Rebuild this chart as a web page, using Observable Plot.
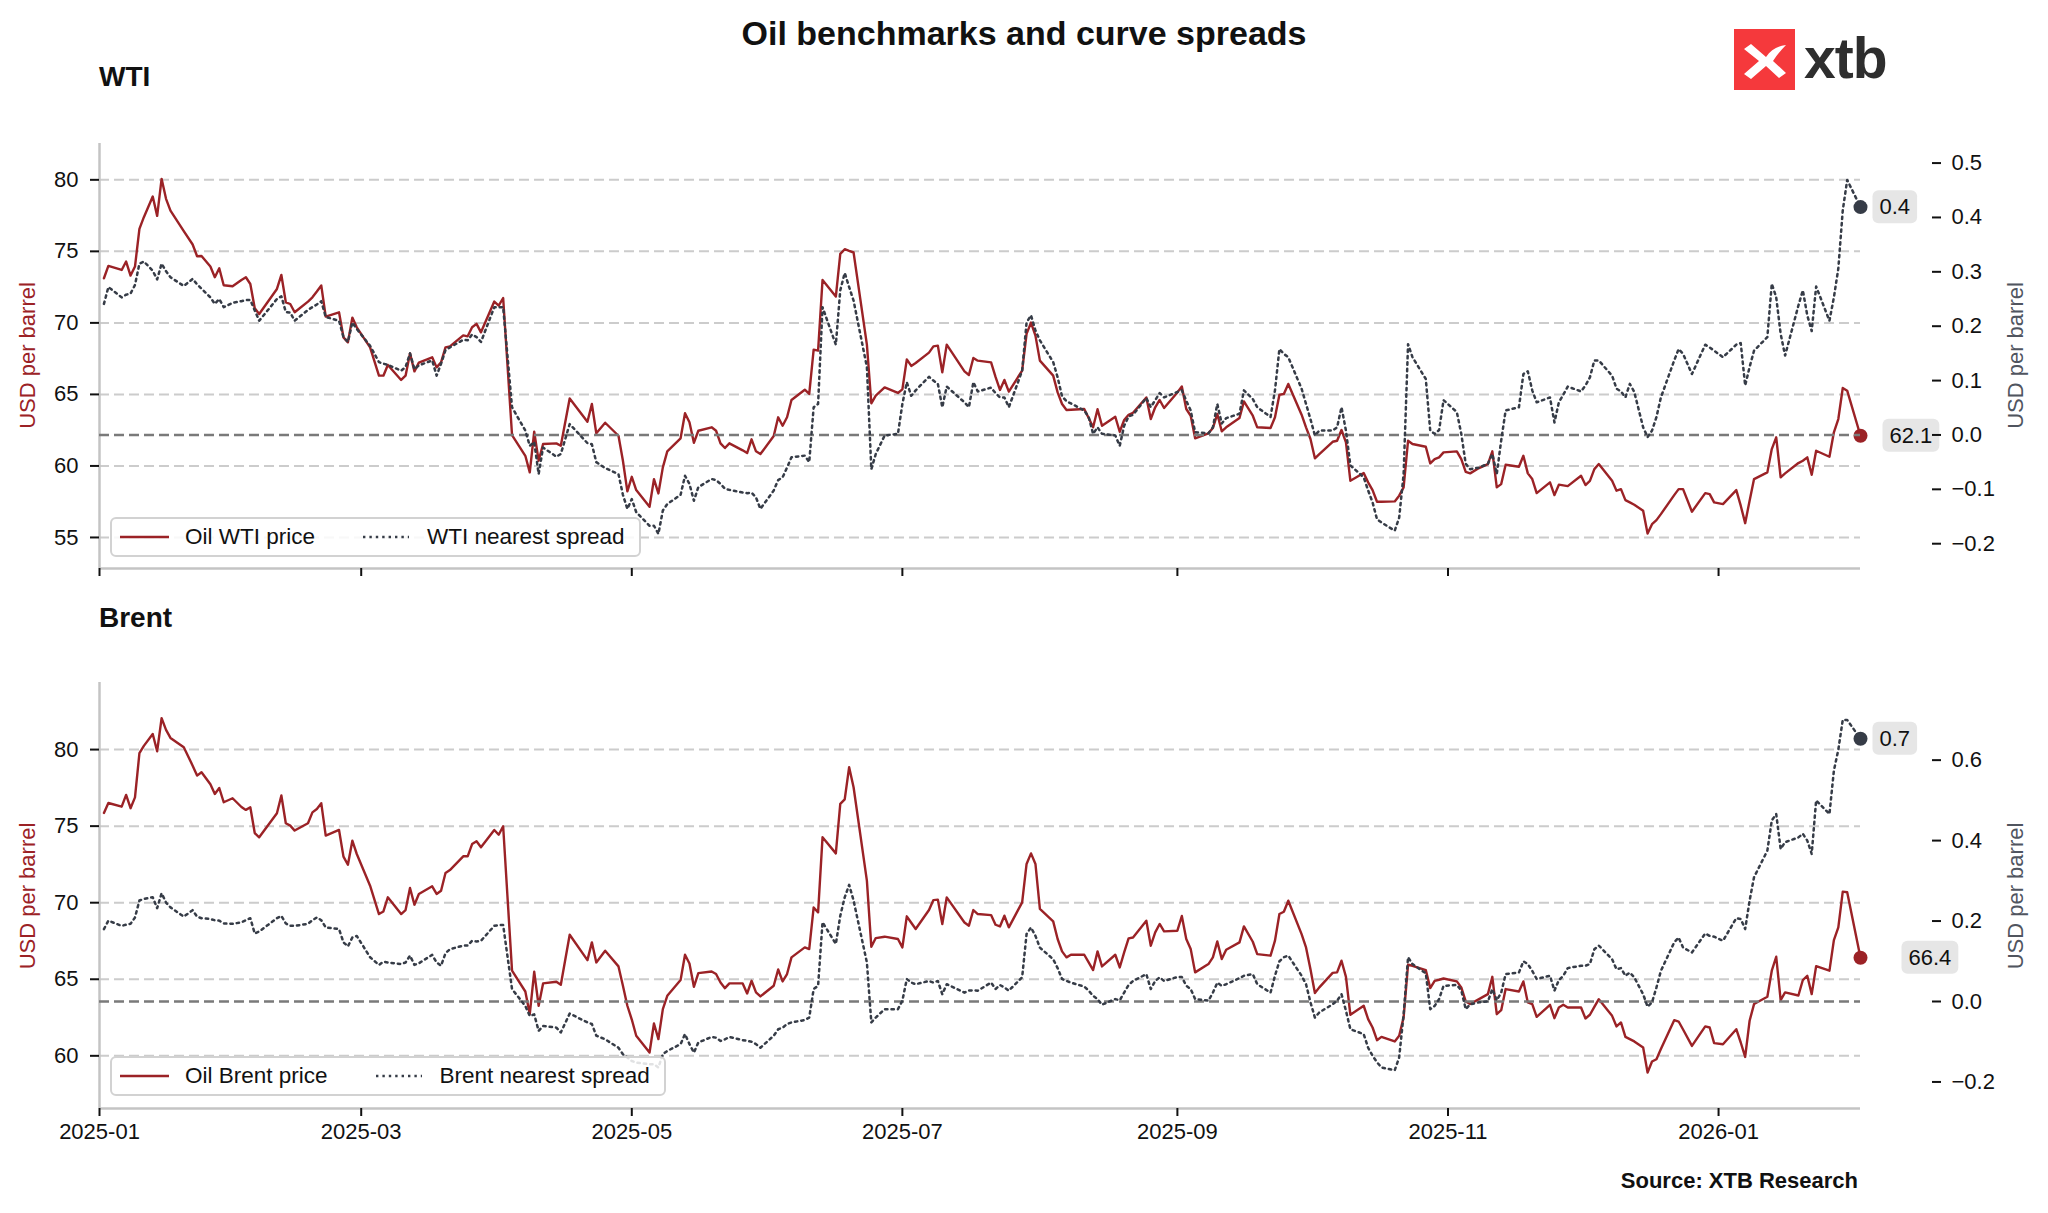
<!DOCTYPE html>
<html>
<head>
<meta charset="utf-8">
<script src="https://cdn.jsdelivr.net/npm/d3@7"></script>
<script src="https://cdn.jsdelivr.net/npm/@observablehq/plot@0.6"></script>
<style>
  html, body { margin: 0; padding: 0; background: #fff; overflow: hidden; }
  #fig { position: relative; width: 2048px; height: 1213px; background: #fff; font-family: "Liberation Sans", Arial, sans-serif; }
  .legend { position: absolute; display: flex; align-items: center; box-sizing: border-box; height: 40px;
    border: 2px solid #d2d2d2; border-radius: 6px; background: rgba(255,255,255,0.85);
    padding: 0 14px 0 6px; font-size: 22.5px; color: #111; white-space: nowrap; }
  .legend svg { display: block; }
</style>
</head>
<body>
<div id="fig"></div>
<script>
// ---------------- data ----------------
const dates = [
"2025-01-02","2025-01-03","2025-01-06","2025-01-07","2025-01-08","2025-01-09","2025-01-10","2025-01-11","2025-01-13","2025-01-14",
"2025-01-15","2025-01-16","2025-01-17","2025-01-20","2025-01-22","2025-01-23","2025-01-24","2025-01-26","2025-01-27","2025-01-28",
"2025-01-29","2025-01-31","2025-02-02","2025-02-03","2025-02-04","2025-02-05","2025-02-06","2025-02-10","2025-02-11","2025-02-12",
"2025-02-13","2025-02-14","2025-02-17","2025-02-18","2025-02-19","2025-02-20","2025-02-21","2025-02-24","2025-02-25","2025-02-26",
"2025-02-27","2025-02-28","2025-03-03","2025-03-05","2025-03-06","2025-03-07","2025-03-10","2025-03-11","2025-03-12","2025-03-13",
"2025-03-14","2025-03-17","2025-03-18","2025-03-19","2025-03-20","2025-03-21","2025-03-24","2025-03-25","2025-03-26","2025-03-27",
"2025-03-28","2025-03-31","2025-04-01","2025-04-02","2025-04-04","2025-04-07","2025-04-08","2025-04-09","2025-04-10",
"2025-04-11","2025-04-14","2025-04-15","2025-04-17","2025-04-21","2025-04-22","2025-04-23","2025-04-25","2025-04-28","2025-04-29",
"2025-04-30","2025-05-01","2025-05-02","2025-05-05","2025-05-06","2025-05-07","2025-05-08","2025-05-09","2025-05-12","2025-05-13",
"2025-05-14","2025-05-15","2025-05-16","2025-05-19","2025-05-20","2025-05-21","2025-05-22","2025-05-23","2025-05-26","2025-05-27",
"2025-05-28","2025-05-29","2025-05-30","2025-06-02","2025-06-03","2025-06-04","2025-06-05","2025-06-06","2025-06-09","2025-06-10",
"2025-06-11","2025-06-12","2025-06-13","2025-06-16","2025-06-17","2025-06-18","2025-06-19","2025-06-20","2025-06-23","2025-06-24",
"2025-06-25","2025-06-27","2025-06-30","2025-07-01","2025-07-02","2025-07-03","2025-07-04","2025-07-07","2025-07-08","2025-07-09",
"2025-07-10","2025-07-11","2025-07-15","2025-07-16","2025-07-17",
"2025-07-18","2025-07-21","2025-07-22","2025-07-23","2025-07-24","2025-07-25","2025-07-28","2025-07-29","2025-07-30","2025-07-31",
"2025-08-01","2025-08-04","2025-08-05","2025-08-06","2025-08-07","2025-08-08","2025-08-11","2025-08-12","2025-08-13","2025-08-14",
"2025-08-15","2025-08-18","2025-08-19","2025-08-20","2025-08-21","2025-08-22","2025-08-25","2025-08-26","2025-08-27","2025-08-28",
"2025-08-29","2025-09-01","2025-09-02","2025-09-03","2025-09-04","2025-09-05","2025-09-08","2025-09-09","2025-09-10","2025-09-11",
"2025-09-12","2025-09-15","2025-09-16","2025-09-18","2025-09-19","2025-09-22","2025-09-23","2025-09-24","2025-09-25","2025-09-26",
"2025-09-29","2025-09-30","2025-10-01","2025-10-02","2025-10-03","2025-10-06","2025-10-07","2025-10-08","2025-10-09","2025-10-10",
"2025-10-13","2025-10-14","2025-10-15","2025-10-16","2025-10-17","2025-10-20","2025-10-21","2025-10-22","2025-10-23",
"2025-10-24","2025-10-27","2025-10-28","2025-10-29","2025-10-30","2025-10-31","2025-11-03","2025-11-04","2025-11-05","2025-11-06",
"2025-11-08","2025-11-10","2025-11-11","2025-11-12","2025-11-13","2025-11-14","2025-11-17","2025-11-18","2025-11-19","2025-11-20",
"2025-11-21","2025-11-24","2025-11-25","2025-11-26","2025-11-27","2025-11-28","2025-12-01","2025-12-02","2025-12-03","2025-12-04",
"2025-12-05","2025-12-08","2025-12-09","2025-12-10","2025-12-11","2025-12-12","2025-12-13","2025-12-15","2025-12-16","2025-12-17",
"2025-12-18","2025-12-19","2025-12-22","2025-12-23","2025-12-24","2025-12-26","2025-12-29","2025-12-30","2025-12-31","2026-01-02",
"2026-01-05","2026-01-06","2026-01-07","2026-01-08","2026-01-09","2026-01-12","2026-01-13","2026-01-14","2026-01-15","2026-01-16",
"2026-01-19","2026-01-20","2026-01-21","2026-01-22","2026-01-23","2026-01-26","2026-01-27","2026-01-28","2026-01-29","2026-01-30","2026-02-02"
];

const wtiPrice = [
73.12,73.98,73.70,74.29,73.31,73.94,76.57,77.39,78.83,77.48,
80.07,78.67,77.85,76.41,75.48,74.66,74.68,73.94,73.19,73.82,
72.63,72.56,73.00,73.19,72.72,71.02,70.62,72.37,73.35,71.44,
71.32,70.74,71.49,71.79,72.19,72.61,70.44,70.74,68.99,68.64,
70.37,69.69,68.29,66.31,66.31,67.06,66.01,66.31,67.87,66.61,
67.22,67.59,66.89,67.24,68.29,68.36,69.13,69.06,69.69,69.93,
69.34,71.49,71.21,71.74,62.16,60.71,59.55,62.39,60.36,
61.53,61.58,61.41,64.72,63.09,64.33,62.28,63.02,62.11,60.36,
58.22,59.24,58.31,57.15,59.08,58.08,59.90,61.02,61.93,63.68,
63.05,61.62,62.46,62.70,62.46,61.58,61.25,61.58,61.09,60.90,
61.86,61.02,60.83,62.09,63.40,62.81,63.40,64.61,65.33,65.03,
68.13,68.06,73.00,71.84,74.82,75.15,75.03,74.92,68.48,64.38,
64.91,65.49,65.10,65.35,67.45,66.99,67.20,67.92,68.36,68.41,
66.54,68.48,66.61,66.36,67.55,
67.36,67.24,66.22,65.31,66.01,65.19,66.66,69.23,70.02,69.11,
67.36,66.31,65.14,64.33,63.91,63.93,63.98,63.35,62.70,63.96,
62.81,63.44,62.39,63.21,63.58,63.72,64.79,63.28,64.10,64.61,
64.05,65.14,65.56,63.98,63.51,61.93,62.28,62.65,63.63,62.42,
62.70,63.35,64.51,63.51,62.70,62.65,63.40,64.98,65.03,65.73,
63.58,62.70,61.88,60.53,60.83,61.69,61.76,62.51,61.65,58.96,
59.50,58.85,58.31,57.50,57.50,57.52,57.92,58.50,61.76,
61.53,61.34,60.18,60.48,60.60,60.95,61.02,60.48,59.59,59.48,
59.85,60.13,61.02,58.50,58.73,60.08,59.94,60.71,59.48,59.08,
58.10,58.85,57.96,58.69,58.64,58.59,59.31,58.66,58.96,59.78,
60.13,58.96,58.27,58.38,57.61,57.45,57.29,56.87,55.28,55.93,
56.21,56.63,57.96,58.38,58.38,56.80,58.10,58.03,57.45,57.33,
58.31,57.22,56.00,57.57,59.08,59.55,61.18,62.00,59.20,59.48,
60.20,60.36,60.60,59.38,61.06,60.64,62.35,63.28,65.45,65.26,62.11
];

const wtiSpread = [
0.241,0.272,0.253,0.258,0.260,0.276,0.315,0.319,0.302,0.286,
0.315,0.301,0.290,0.274,0.287,0.277,0.269,0.253,0.241,0.250,
0.235,0.243,0.246,0.248,0.248,0.229,0.210,0.250,0.255,0.226,
0.225,0.210,0.230,0.235,0.240,0.246,0.217,0.210,0.180,0.171,
0.207,0.195,0.164,0.134,0.131,0.129,0.118,0.125,0.150,0.121,
0.128,0.137,0.109,0.131,0.156,0.161,0.175,0.174,0.185,0.180,
0.171,0.235,0.235,0.235,0.051,0.008,-0.020,-0.013,-0.072,
-0.023,-0.040,-0.035,0.020,-0.015,-0.017,-0.050,-0.061,-0.072,-0.110,
-0.136,-0.118,-0.142,-0.167,-0.167,-0.182,-0.139,-0.127,-0.110,-0.075,
-0.090,-0.121,-0.096,-0.081,-0.083,-0.090,-0.099,-0.101,-0.106,-0.107,
-0.106,-0.115,-0.136,-0.102,-0.083,-0.078,-0.060,-0.041,-0.038,-0.050,
0.051,0.057,0.235,0.166,0.266,0.298,0.272,0.247,0.125,-0.063,
-0.035,-0.001,0.002,0.057,0.097,0.072,0.082,0.107,0.100,0.094,
0.051,0.089,0.060,0.051,0.097,
0.080,0.087,0.077,0.069,0.069,0.051,0.118,0.207,0.220,0.192,
0.174,0.134,0.106,0.071,0.062,0.058,0.045,0.033,0.002,0.014,
0.002,-0.001,-0.020,0.017,0.034,0.037,0.068,0.051,0.064,0.077,
0.069,0.079,0.082,0.063,0.045,0.005,0.003,0.014,0.057,0.021,
0.031,0.039,0.082,0.066,0.051,0.033,0.082,0.158,0.149,0.143,
0.085,0.057,0.029,-0.001,0.008,0.008,0.014,0.051,0.008,-0.056,
-0.078,-0.102,-0.124,-0.155,-0.161,-0.176,-0.152,-0.072,0.167,
0.143,0.103,0.008,0.002,0.009,0.064,0.042,0.002,-0.053,-0.063,
-0.060,-0.053,-0.035,-0.072,-0.010,0.045,0.051,0.112,0.117,0.082,
0.060,0.069,0.023,0.060,0.074,0.089,0.080,0.091,0.106,0.137,
0.137,0.109,0.085,0.080,0.069,0.094,0.079,0.014,-0.004,0.008,
0.033,0.069,0.137,0.158,0.149,0.112,0.166,0.161,0.155,0.143,
0.166,0.169,0.091,0.125,0.155,0.180,0.278,0.253,0.186,0.146,
0.238,0.266,0.220,0.191,0.273,0.210,0.253,0.306,0.413,0.469,0.419
];

const brentPrice = [
75.86,76.51,76.27,77.04,76.17,76.88,79.76,80.24,81.02,79.89,
82.05,81.29,80.76,80.15,78.95,78.30,78.52,77.73,77.10,77.49,
76.56,76.82,76.25,76.06,76.23,74.55,74.27,75.84,77.00,75.19,
75.03,74.71,75.19,75.90,76.12,76.49,74.38,74.75,73.01,72.48,
74.05,73.18,71.11,69.26,69.43,70.35,69.26,69.52,70.96,69.87,
70.57,71.07,70.57,70.78,71.94,72.13,73.03,73.03,73.83,74.01,
73.62,74.75,74.44,74.99,65.56,64.20,62.72,65.49,63.27,
64.73,64.84,64.64,67.91,66.25,67.41,66.10,66.86,65.84,64.58,
63.27,62.37,61.31,60.22,62.11,61.09,63.05,63.92,64.95,66.60,
66.03,64.51,65.40,65.51,65.34,64.79,64.42,64.73,64.73,64.07,
64.90,64.14,63.88,64.58,65.64,64.86,65.34,66.43,67.08,66.97,
69.69,69.37,74.27,73.22,76.45,76.75,78.85,77.54,71.44,67.12,
67.69,67.78,67.63,67.08,69.11,68.69,68.28,69.52,70.17,70.20,
68.61,70.35,68.71,68.50,69.52,
69.26,69.19,68.56,68.45,69.15,68.39,70.02,72.53,73.22,72.53,
69.59,68.78,67.63,66.82,66.43,66.60,66.60,66.10,65.60,66.82,
65.84,66.60,65.77,66.75,67.67,67.73,68.82,67.19,68.06,68.61,
68.13,68.17,69.13,67.63,66.97,65.45,65.99,66.43,67.47,66.32,
66.93,67.41,68.45,67.45,66.64,66.54,67.52,69.26,69.41,70.13,
67.95,67.08,65.66,64.10,64.47,65.42,65.45,66.21,65.16,62.68,
63.27,62.40,61.85,61.02,61.24,60.94,61.31,62.51,65.95,
65.88,65.60,64.42,64.90,64.97,65.05,64.86,64.47,63.55,63.38,
63.70,64.03,65.16,62.72,62.98,64.36,64.20,64.86,63.49,63.38,
62.55,63.33,62.46,63.16,63.33,63.16,63.16,62.44,62.68,63.20,
63.70,62.61,61.92,62.18,61.24,61.09,60.94,60.54,58.91,59.63,
59.78,60.44,62.33,62.24,61.72,60.65,61.92,61.85,60.83,60.76,
61.74,60.87,59.93,62.29,63.38,63.86,65.56,66.47,63.64,64.14,
63.94,64.95,65.23,64.03,65.86,65.56,67.56,68.39,70.72,70.68,66.40
];

const brentSpread = [
0.180,0.201,0.188,0.191,0.193,0.209,0.251,0.255,0.259,0.232,
0.269,0.246,0.234,0.211,0.227,0.211,0.207,0.205,0.202,0.201,
0.194,0.193,0.197,0.202,0.207,0.169,0.174,0.207,0.213,0.194,
0.188,0.188,0.193,0.202,0.209,0.202,0.184,0.180,0.147,0.137,
0.159,0.163,0.110,0.091,0.099,0.097,0.093,0.097,0.114,0.091,
0.095,0.116,0.097,0.089,0.120,0.130,0.139,0.139,0.151,0.149,
0.151,0.188,0.190,0.190,0.031,-0.011,-0.036,-0.032,-0.073,
-0.061,-0.065,-0.077,-0.030,-0.052,-0.056,-0.085,-0.094,-0.115,-0.131,
-0.139,-0.148,-0.152,-0.156,-0.156,-0.164,-0.131,-0.123,-0.106,-0.081,
-0.106,-0.127,-0.102,-0.088,-0.090,-0.098,-0.094,-0.088,-0.096,-0.098,
-0.100,-0.106,-0.115,-0.085,-0.069,-0.065,-0.056,-0.052,-0.046,-0.040,
0.031,0.039,0.197,0.143,0.213,0.259,0.290,0.251,0.097,-0.052,
-0.040,-0.019,-0.019,0.002,0.056,0.047,0.043,0.051,0.047,0.051,
0.018,0.043,0.022,0.027,0.028,
0.027,0.047,0.031,0.041,0.035,0.027,0.060,0.168,0.184,0.163,
0.134,0.105,0.083,0.056,0.051,0.047,0.037,0.027,0.014,0.006,
-0.008,0.006,0.003,0.022,0.041,0.051,0.068,0.031,0.051,0.060,
0.051,0.061,0.061,0.039,0.031,0.006,0.002,0.022,0.047,0.039,
0.043,0.058,0.064,0.068,0.043,0.022,0.064,0.100,0.110,0.114,
0.064,0.043,-0.002,-0.040,-0.027,-0.007,0.002,0.018,-0.023,-0.069,
-0.081,-0.115,-0.135,-0.151,-0.164,-0.171,-0.139,-0.032,0.110,
0.093,0.070,-0.019,-0.011,0.006,0.039,0.041,0.028,-0.019,-0.007,
-0.002,0.000,0.031,0.003,0.022,0.068,0.072,0.100,0.093,0.076,
0.056,0.064,0.027,0.053,0.064,0.083,0.089,0.089,0.093,0.130,
0.139,0.105,0.080,0.083,0.064,0.072,0.060,0.018,-0.013,-0.002,
0.035,0.076,0.147,0.159,0.134,0.122,0.169,0.163,0.161,0.151,
0.207,0.205,0.180,0.251,0.309,0.375,0.450,0.466,0.379,0.396,
0.408,0.417,0.400,0.367,0.500,0.466,0.574,0.626,0.700,0.700,0.653
];

// axis ticks / labels
const xTickLabels = ["2025-01","2025-03","2025-05","2025-07","2025-09","2025-11","2026-01"];
const xDomainLabels = ["2025-01-01","2026-02-02"];
const wtiPriceTicks = [55,60,65,70,75,80];
const wtiSpreadTicks = [-0.2,-0.1,0,0.1,0.2,0.3,0.4,0.5];
const brentPriceTicks = [60,65,70,75,80];
const brentSpreadTicks = [-0.2,0,0.2,0.4,0.6];
const wtiPriceDomain = [52.83,82.54];
const wtiSpreadDomain = [-0.2456,0.536];
const brentPriceDomain = [56.56,84.38];
const brentSpreadDomain = [-0.266,0.793];

const titleText = "Oil benchmarks and curve spreads";
const panelTitles = ["WTI","Brent"];
const legendWTI = ["Oil WTI price","WTI nearest spread"];
const legendBrent = ["Oil Brent price","Brent nearest spread"];
const axisLabel = "USD per barrel";
const sourceText = "Source: XTB Research";

// ---------------- rendering ----------------
const FONT = '"Liberation Sans", Arial, sans-serif';
const RED = "#9b2226";
const DARK = "#363c47";
const DOTS = "2.4,4";
const fig = document.getElementById("fig");

const rows = dates.map((d, i) => ({
  date: new Date(d), wtiPrice: wtiPrice[i], wtiSpread: wtiSpread[i],
  brentPrice: brentPrice[i], brentSpread: brentSpread[i]
}));
const xDomain = xDomainLabels.map(s => new Date(s));
const xTicks = xTickLabels.map(s => new Date(s + "-01"));
const last = rows[rows.length - 1];
const f1 = d3.format(".1f");

// decoration layer (titles, axis labels, logo, source)
const deco = d3.select(fig).append("svg")
  .attr("width", 2048).attr("height", 1213)
  .style("position", "absolute").style("left", 0).style("top", 0)
  .style("font-family", FONT);
deco.append("text").attr("x", 1024).attr("y", 45).attr("text-anchor", "middle")
  .attr("font-size", 34).attr("font-weight", "bold").attr("fill", "#111").text(titleText);
deco.append("text").attr("x", 99).attr("y", 86).attr("font-size", 28).attr("font-weight", "bold").attr("fill", "#111").text(panelTitles[0]);
deco.append("text").attr("x", 99).attr("y", 627).attr("font-size", 28).attr("font-weight", "bold").attr("fill", "#111").text(panelTitles[1]);
[[355.5], [896]].forEach(([cy]) => {
  deco.append("text").attr("transform", `translate(27,${cy}) rotate(-90)`).attr("text-anchor", "middle")
    .attr("dominant-baseline", "central").attr("font-size", 22).attr("fill", RED).text(axisLabel);
  deco.append("text").attr("transform", `translate(2015,${cy}) rotate(-90)`).attr("text-anchor", "middle")
    .attr("dominant-baseline", "central").attr("font-size", 22).attr("fill", "#50555f").text(axisLabel);
});
deco.append("text").attr("x", 1858).attr("y", 1188).attr("text-anchor", "end")
  .attr("font-size", 22).attr("font-weight", "bold").attr("fill", "#111").text(sourceText);
// logo
const logo = deco.append("g");
logo.append("rect").attr("x", 1734).attr("y", 29).attr("width", 61).attr("height", 61).attr("fill", "#f5393c");
logo.append("path").attr("d", "M1744,49 L1751,44 L1766,57 C1771,50 1777,46 1786,45 C1781,50 1777,55 1773,61 L1786,73 L1779,78 L1766,66 L1751,79 L1744,74 L1759,61 Z")
  .attr("fill", "#fff");
logo.append("text").attr("x", 1804).attr("y", 78).attr("font-size", 57).attr("font-weight", "bold")
  .attr("fill", "#2e2e2e").attr("letter-spacing", -1).text("xtb");

function addBoxes(svg) {
  d3.select(svg).selectAll('g[aria-label="text"] text').each(function () {
    const bb = this.getBBox();
    d3.select(this.parentNode).insert("rect", () => this)
      .attr("transform", this.getAttribute("transform"))
      .attr("x", bb.x - 7).attr("y", bb.y - 4)
      .attr("width", bb.width + 14).attr("height", bb.height + 8)
      .attr("rx", 6).attr("fill", "#e6e6e6");
  });
}

function panel(cfg) {
  const common = {
    width: 2048, height: cfg.height,
    marginLeft: 99, marginRight: 188, marginTop: cfg.mt, marginBottom: cfg.mb,
    style: {background: "transparent", fontFamily: FONT, fontSize: "22px", color: "#111", maxWidth: "none", overflow: "visible"}
  };
  const a = Plot.plot({
    ...common,
    x: {type: "utc", domain: xDomain},
    y: {domain: cfg.priceDomain},
    marks: [
      Plot.ruleY(cfg.priceTicks, {stroke: "#cccccc", strokeWidth: 2, strokeDasharray: "10,5"}),
      Plot.ruleX([xDomain[0]], {stroke: "#c4c4c4", strokeWidth: 2.5}),
      Plot.ruleY([cfg.priceDomain[0]], {stroke: "#c4c4c4", strokeWidth: 2.5}),
      Plot.axisY({ticks: cfg.priceTicks, anchor: "left", tickSize: 9, tickPadding: 12, label: null, strokeWidth: 2, fontSize: 22}),
      Plot.axisX({ticks: xTicks, anchor: "bottom", tickSize: 8, tickPadding: 7, label: null, strokeWidth: 2, fontSize: 22,
        tickFormat: cfg.xLabels ? d3.utcFormat("%Y-%m") : () => ""}),
      Plot.line(rows, {x: "date", y: cfg.priceKey, stroke: RED, strokeWidth: 2.4}),
      Plot.dot([last], {x: "date", y: cfg.priceKey, r: 7, fill: RED}),
      Plot.text([last], {x: "date", y: cfg.priceKey, text: d => f1(d[cfg.priceKey]), dx: cfg.priceDx, textAnchor: "start", fontSize: 22, fill: "#111"})
    ]
  });
  const b = Plot.plot({
    ...common,
    x: {type: "utc", domain: xDomain, axis: null},
    y: {domain: cfg.spreadDomain, axis: null},
    marks: [
      Plot.ruleY([0], {stroke: "#7a7a7a", strokeWidth: 2.6, strokeDasharray: "10,5"}),
      Plot.axisY({ticks: cfg.spreadTicks, anchor: "right", dx: 71, tickSize: 9, tickPadding: 11, label: null, strokeWidth: 2, fontSize: 22,
        tickFormat: f1}),
      Plot.line(rows, {x: "date", y: cfg.spreadKey, stroke: DARK, strokeWidth: 2.5, strokeDasharray: DOTS}),
      Plot.dot([last], {x: "date", y: cfg.spreadKey, r: 7, fill: DARK}),
      Plot.text([last], {x: "date", y: cfg.spreadKey, text: d => f1(d[cfg.spreadKey]), dx: cfg.spreadDx, textAnchor: "start", fontSize: 22, fill: "#111"})
    ]
  });
  [a, b].forEach(svg => {
    svg.style.position = "absolute";
    svg.style.left = "0px";
    svg.style.top = cfg.top + "px";
    fig.appendChild(svg);
    addBoxes(svg);
  });
  // legend
  const lg = d3.select(fig).append("div").attr("class", "legend")
    .style("left", "110px").style("top", cfg.legendTop + "px");
  const s1 = lg.append("svg").attr("width", 49).attr("height", 8).style("margin-left", "2px");
  s1.append("line").attr("x1", 0).attr("x2", 49).attr("y1", 4).attr("y2", 4).attr("stroke", RED).attr("stroke-width", 2.4);
  lg.append("span").style("margin-left", "16px").text(cfg.legend[0]);
  const s2 = lg.append("svg").attr("width", 46).attr("height", 8).style("margin-left", "48px");
  s2.append("line").attr("x1", 0).attr("x2", 46).attr("y1", 4).attr("y2", 4).attr("stroke", DARK)
    .attr("stroke-width", 2.5).attr("stroke-dasharray", DOTS);
  lg.append("span").style("margin-left", "18px").text(cfg.legend[1]);
}

panel({top: 100, height: 520, mt: 43, mb: 52, priceKey: "wtiPrice", spreadKey: "wtiSpread",
  priceDomain: wtiPriceDomain, priceTicks: wtiPriceTicks, spreadDomain: wtiSpreadDomain, spreadTicks: wtiSpreadTicks,
  xLabels: false, priceDx: 29, spreadDx: 19, legend: legendWTI, legendTop: 517});
panel({top: 640, height: 540, mt: 42, mb: 72, priceKey: "brentPrice", spreadKey: "brentSpread",
  priceDomain: brentPriceDomain, priceTicks: brentPriceTicks, spreadDomain: brentSpreadDomain, spreadTicks: brentSpreadTicks,
  xLabels: true, priceDx: 48, spreadDx: 19, legend: legendBrent, legendTop: 1056});
</script>
</body>
</html>
